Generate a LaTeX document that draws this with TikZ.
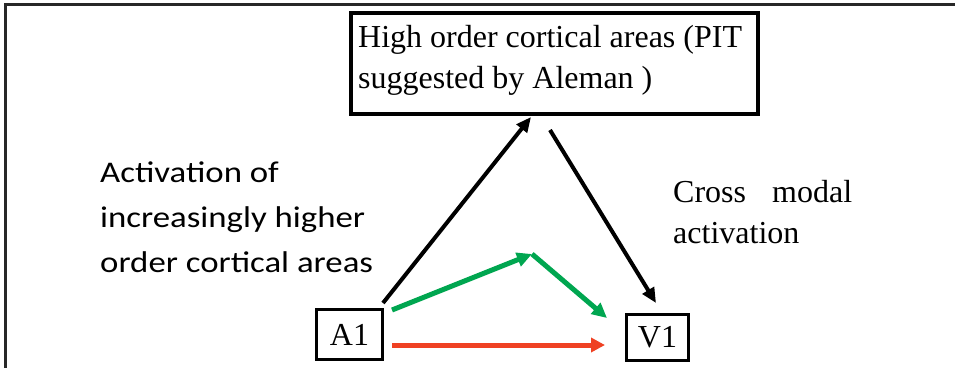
\documentclass[tikz,border=0pt]{standalone}
\usepackage{fontspec}
\setmainfont{Liberation Serif}
\newfontfamily\calib{Carlito}
\usetikzlibrary{arrows.meta}
\definecolor{agreen}{RGB}{0,166,80}
\definecolor{ared}{RGB}{239,65,35}
\definecolor{framecol}{RGB}{40,40,40}
\begin{document}
\begin{tikzpicture}[x=1pt,y=-1pt,
  box/.style={draw, inner sep=0pt, font=\fontsize{32}{40}\selectfont},
  serif/.style={font=\fontsize{32}{40}\selectfont, inner sep=0pt, anchor=base west},
  sans/.style={font=\calib\fontsize{30}{36}\selectfont, inner sep=0pt, anchor=base west},
  blk/.style={line width=4pt, -{Triangle[length=15pt,width=13pt]}},
  grn/.style={agreen, line width=5pt, -{Triangle[length=15pt,width=14pt]}},
  rd/.style={ared, line width=5pt, -{Triangle[length=14pt,width=14pt]}}
]
\useasboundingbox (0,0) rectangle (955,368);
\draw[framecol, line width=3pt] (955,4) -- (5,4) -- (5,368);

\node[box, line width=4pt, minimum width=407pt, minimum height=101pt] (top) at (554.5,63.5) {};
\node[serif] (t1) at (358,47) {High order cortical areas (PIT};
\node[serif] (t2) at (358,88) {suggested by Aleman )};

\node[box, line width=3pt, minimum width=66pt, minimum height=50pt] (A1) at (349.5,334.5) {A1};
\node[box, line width=3pt, minimum width=62pt, minimum height=46pt] (V1) at (657.5,337.5) {V1};

\node[sans] (l1) at (100,182) {\scalebox{1.16}[1]{Activation of}};
\node[sans] (l2) at (100,227) {\scalebox{1.16}[1]{increasingly higher}};
\node[sans] (l3) at (100,272) {\scalebox{1.16}[1]{order cortical areas}};

\node[serif] (r1) at (673,202) {\makebox[179pt][s]{Cross modal}};
\node[serif] (r2) at (673,243) {activation};

\coordinate (peak) at (532,254);
\draw[blk] ([shift={(-1,-5)}]A1.north east) -- ([shift={(-23.5,1)}]top.south);
\draw[blk] ([shift={(-4.5,14)}]top.south) -- ([shift={(-1.5,-10)}]V1.north);
\draw[grn] ([shift={(8,2)}]A1.north east) -- (peak);
\draw[grn] (peak) -- ([shift={(-18,5)}]V1.north west);
\draw[rd] ([shift={(8,10.5)}]A1.east) -- ([shift={(-20,7.5)}]V1.west);
\end{tikzpicture}
\end{document}
